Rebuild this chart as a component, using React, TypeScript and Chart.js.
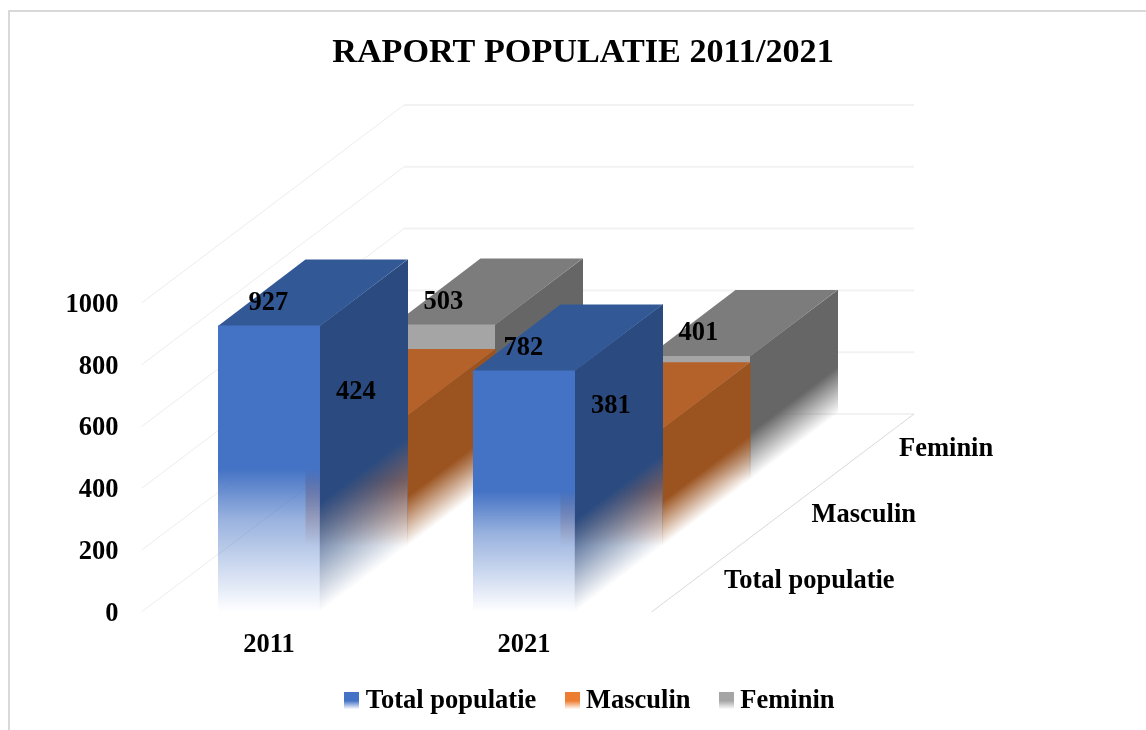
import React, { useEffect, useRef } from "react";
import { Chart, registerables } from "chart.js";

Chart.register(...registerables);

const categories = ["2011", "2021"];
const totalPopulatie = [927, 782];
const masculin = [424, 381];
const feminin = [503, 401];
const yTicksMax = 1000;
const yTickStep = 200;
const titleText = "RAPORT POPULATIE 2011/2021";

const FONT = "'Liberation Serif', 'Times New Roman', serif";
const LAYER_DX = 87.5;
const LAYER_DY = -66;
const BAR_DX = 87.5;
const BAR_DY = -66;

const palette = [
  { front: [68, 114, 196], top: "#335896", side: [43, 75, 128] },
  { front: [237, 125, 49], top: "#b5622a", side: [155, 83, 31] },
  { front: [165, 165, 165], top: "#7c7c7c", side: [102, 102, 102] },
];

const rgba = (c: number[], a: number) => `rgba(${c[0]},${c[1]},${c[2]},${a})`;

function fade(ctx: CanvasRenderingContext2D, c: number[], top: number, base: number, start: number) {
  const g = ctx.createLinearGradient(0, top, 0, base);
  g.addColorStop(0, rgba(c, 1));
  g.addColorStop(start, rgba(c, 1));
  g.addColorStop(start + (1 - start) * 0.35, rgba(c, 0.55));
  g.addColorStop(1, rgba(c, 0));
  return g;
}

function sideFade(ctx: CanvasRenderingContext2D, c: number[], h: number) {
  const g = ctx.createLinearGradient(0, 0, 0, h);
  g.addColorStop(0, rgba(c, 1));
  g.addColorStop(0.62, rgba(c, 1));
  g.addColorStop(1, rgba(c, 0));
  return g;
}

function legendSwatch(c: number[]) {
  const cv = document.createElement("canvas");
  cv.width = 15;
  cv.height = 17;
  const x = cv.getContext("2d")!;
  const g = x.createLinearGradient(0, 0, 0, 17);
  g.addColorStop(0, rgba(c, 1));
  g.addColorStop(0.5, rgba(c, 1));
  g.addColorStop(1, rgba(c, 0));
  x.fillStyle = g;
  x.fillRect(0, 0, 15, 17);
  return cv;
}

const box3d = {
  id: "box3d",
  afterLayout(chart: any) {
    const t = chart.titleBlock;
    if (t) {
      t.left += 10;
      t.right += 10;
    }
    const l = chart.legend;
    if (l) {
      l.left += 20;
      l.right += 20;
      l.top = 652;
    }
  },
  beforeDatasetsDraw(chart: any) {
    const { ctx, chartArea: a, scales } = chart;
    const dx = LAYER_DX * 3;
    const dy = LAYER_DY * 3;
    ctx.save();
    scales.y.ticks.forEach((t: any) => {
      const y = scales.y.getPixelForValue(t.value);
      ctx.strokeStyle = "#ececec";
      ctx.lineWidth = 1;
      ctx.beginPath();
      ctx.moveTo(a.left, y);
      ctx.lineTo(a.left + dx, y + dy);
      ctx.stroke();
      ctx.strokeStyle = "#f2f2f2";
      ctx.lineWidth = 2;
      ctx.beginPath();
      ctx.moveTo(a.left + dx, y + dy);
      ctx.lineTo(a.right + dx, y + dy);
      ctx.stroke();
    });
    ctx.strokeStyle = "#d9d9d9";
    ctx.lineWidth = 1;
    ctx.beginPath();
    ctx.moveTo(a.right, a.bottom);
    ctx.lineTo(a.right + dx, a.bottom + dy);
    ctx.stroke();
    ctx.restore();
  },
  beforeDatasetDraw(chart: any, args: any) {
    const { ctx } = chart;
    const i = args.index;
    const p = palette[i];
    ctx.save();
    ctx.translate(LAYER_DX * i, LAYER_DY * i);
    args.meta.data.forEach((el: any) => {
      const left = el.x - el.width / 2;
      const right = el.x + el.width / 2;
      const h = el.base - el.y;
      // right-hand side face, sheared so that its fade follows the depth
      ctx.save();
      ctx.transform(1, BAR_DY / BAR_DX, 0, 1, right, el.y);
      ctx.fillStyle = sideFade(ctx, p.side, h);
      ctx.fillRect(-0.2, 0, BAR_DX + 0.7, h);
      ctx.restore();
      // top face
      ctx.fillStyle = p.top;
      ctx.beginPath();
      ctx.moveTo(left, el.y + 0.5);
      ctx.lineTo(right, el.y + 0.5);
      ctx.lineTo(right + BAR_DX, el.y + BAR_DY);
      ctx.lineTo(left + BAR_DX, el.y + BAR_DY);
      ctx.closePath();
      ctx.fill();
    });
  },
  afterDatasetDraw(chart: any) {
    chart.ctx.restore();
  },
  afterDatasetsDraw(chart: any) {
    const { ctx, chartArea: a } = chart;
    ctx.save();
    ctx.fillStyle = "#000";
    ctx.font = `bold 26.5px ${FONT}`;
    ctx.textBaseline = "middle";
    chart.data.datasets.forEach((ds: any, i: number) => {
      ctx.textAlign = "center";
      chart.getDatasetMeta(i).data.forEach((el: any, k: number) => {
        ctx.fillText(String(ds.data[k]), el.x + LAYER_DX * i - 0.7, el.y + LAYER_DY * i - 22.5);
      });
      ctx.textAlign = "left";
      ctx.fillText(ds.label, a.right + 72.5 + LAYER_DX * i, a.bottom - 31 + LAYER_DY * i);
    });
    ctx.restore();
  },
};

export default function App() {
  const ref = useRef<HTMLCanvasElement>(null);
  useEffect(() => {
    const font = { family: FONT, size: 26.5, weight: "bold" as const };
    const makeDs = (label: string, data: number[], i: number) => ({
      label,
      data,
      grouped: false,
      clip: false as const,
      borderWidth: 0,
      categoryPercentage: 0.4,
      barPercentage: 1,
      backgroundColor: (c: any) => {
        const sc = c.chart.scales.y;
        const v = c.raw;
        if (!sc || v == null) return rgba(palette[i].front, 1);
        return fade(c.chart.ctx, palette[i].front, sc.getPixelForValue(v), sc.getPixelForValue(0), 0.5);
      },
    });
    const chart = new Chart(ref.current!, {
      type: "bar",
      data: {
        labels: categories,
        datasets: [
          makeDs("Total populatie", totalPopulatie, 0),
          makeDs("Masculin", masculin, 1),
          makeDs("Feminin", feminin, 2),
        ],
      },
      options: {
        responsive: false,
        animation: false,
        layout: { padding: 0 },
        scales: {
          x: {
            grid: { display: false },
            border: { display: false },
            ticks: { color: "#000", font, padding: 9, maxRotation: 0 },
            afterFit(s: any) {
              s.height = 46;
            },
          },
          y: {
            min: 0,
            max: yTicksMax,
            grid: { display: false },
            border: { display: false },
            ticks: {
              color: "#000",
              font,
              padding: 15,
              labelOffset: 2,
              stepSize: yTickStep,
              callback: (v: any) => String(v),
            },
            afterFit(s: any) {
              s.width = 141.5;
            },
          },
          pad: {
            type: "linear",
            position: "right",
            grid: { display: false },
            border: { display: false },
            ticks: { display: false },
            afterFit(s: any) {
              s.width = 494.5;
            },
          },
        },
        plugins: {
          title: {
            display: true,
            text: titleText,
            color: "#000",
            font: { family: FONT, size: 34.2, weight: "bold" },
            padding: { top: 33, bottom: 229 },
          },
          legend: {
            display: true,
            position: "bottom",
            labels: {
              color: "#000",
              font,
              padding: 35.5,
              usePointStyle: true,
              pointStyleWidth: 1,
              generateLabels: (c: any) =>
                c.data.datasets.map((d: any, i: number) => ({
                  text: d.label,
                  datasetIndex: i,
                  pointStyle: legendSwatch(palette[i].front),
                  fontColor: "#000",
                  lineWidth: 0,
                })),
            },
          },
          tooltip: { enabled: false },
        },
      } as any,
      plugins: [box3d],
    });
    return () => chart.destroy();
  }, []);
  return (
    <div style={{ position: "absolute", left: 0, top: 0, width: 1146, height: 730, overflow: "hidden", background: "#fff" }}>
      <div
        style={{
          position: "absolute",
          left: 8,
          top: 10,
          right: 0,
          bottom: 0,
          borderLeft: "2px solid #d9d9d9",
          borderTop: "2px solid #d9d9d9",
        }}
      />
      <canvas ref={ref} width={1146} height={730} style={{ position: "absolute", left: 0, top: 0, display: "block" }} />
    </div>
  );
}
